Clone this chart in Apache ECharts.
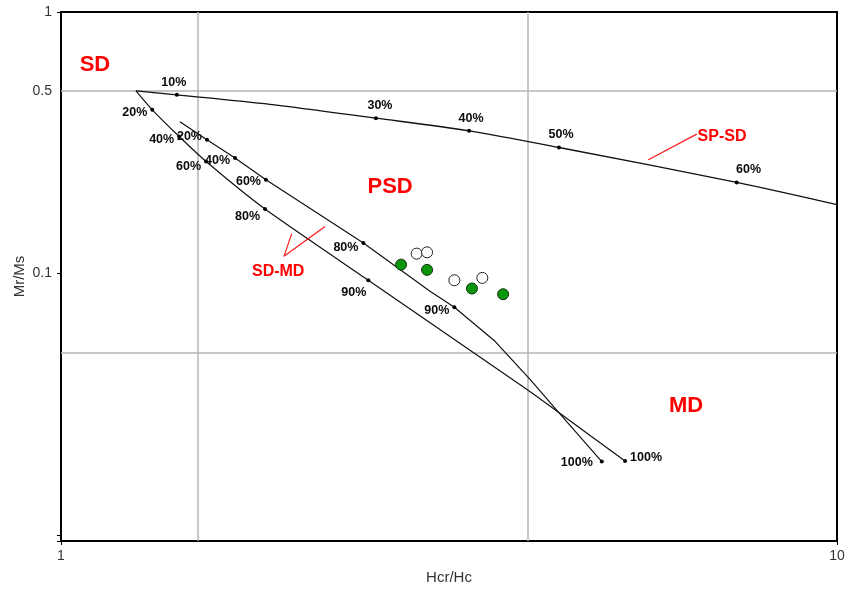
<!DOCTYPE html>
<html><head><meta charset="utf-8">
<script src="https://cdn.jsdelivr.net/npm/echarts@6/dist/echarts.min.js"></script>
<style>html,body{margin:0;padding:0;background:#fff}#c{width:848px;height:594px}</style>
</head><body><div id="c"></div>
<script>
// ---- data (Hcr/Hc , Mr/Ms) ----
const xTickLabels = ['1', '10'];
const yTickLabels = ['1', '0.5', '0.1'];
const gridX = [1.5, 4];
const gridY = [0.5, 0.05];

// SP-SD mixing curve
const spsdCurve = [[1.249,0.4993],[1.410,0.4822],[1.859,0.4436],[2.546,0.3928],[3.356,0.3513],[4.383,0.3034],[7.424,0.2231],[10,0.1834]];
const spsdDots = [[1.410,0.4822],[2.546,0.3928],[3.356,0.3513],[4.383,0.3034],[7.424,0.2231]];
const spsdDotText = ['10%','30%','40%','50%','60%'];

// SD-MD mixing curve 1 (lower)
const sdmd1Curve = [[1.249,0.4993],[1.311,0.4226],[1.420,0.3342],[1.538,0.2683],[1.832,0.1766],[2.489,0.0943],[3.982,0.0361],[4.371,0.02956],[5.332,0.01921]];
const sdmd1Dots = [[1.311,0.4226],[1.420,0.3342],[1.538,0.2683],[1.832,0.1766],[2.489,0.0943],[5.332,0.01921]];
const sdmd1DotText = ['20%','40%','60%','80%','90%','100%'];

// SD-MD mixing curve 2 (upper)
const sdmd2Curve = [[1.423,0.3803],[1.542,0.3247],[1.676,0.2764],[1.837,0.2285],[2.453,0.1310],[2.989,0.0856],[3.213,0.0743],[3.625,0.0551],[4.022,0.0394],[4.375,0.02956],[4.976,0.01911]];
const sdmd2Dots = [[1.542,0.3247],[1.676,0.2764],[1.837,0.2285],[2.453,0.1310],[3.213,0.0743],[4.976,0.01911]];
const sdmd2DotText = ['20%','40%','60%','80%','90%','100%'];

// samples
const samplesFilled = [[2.743,0.1082],[2.963,0.1033],[3.385,0.0877],[3.713,0.0834]];
const samplesOpen = [[2.873,0.1192],[2.963,0.1206],[3.213,0.0943],[3.491,0.0963]];

// region labels
const regionText = ['SD','PSD','MD','SP-SD','SD-MD'];
const regionPos = [[1.106,0.628],[2.655,0.2148],[6.39,0.0313],[7.11,0.3334],[1.905,0.1018]];

// annotation pointers
const pointerSpsd = [[5.713,0.2723],[6.596,0.3413]];
const pointerSdmd = [[1.983,0.1421],[1.938,0.1164],[2.189,0.1515]];

// ---- chart ----
const FONT = 'Arial, "Liberation Sans", sans-serif';
const pctLabelStyle = {show:true, fontFamily:FONT, fontWeight:'bold', fontSize:12.5, color:'#0a0a0a'};

function dotSeries(points, texts, positions, offsets) {
  return {
    type:'scatter', symbol:'circle', symbolSize:4, z:5,
    itemStyle:{color:'#000', opacity:1},
    data: points.map((p,i)=>({
      value:p,
      label:Object.assign({}, pctLabelStyle, {formatter:texts[i], position:positions[i], offset:offsets[i], distance:3})
    }))
  };
}

const chart = echarts.init(document.getElementById('c'), null, {renderer:'canvas'});
const regionSizes = [22,22,22,16,16];

chart.setOption({
  animation:false,
  backgroundColor:'#fff',
  grid:{left:61, right:11, top:12, bottom:53, show:true, borderColor:'#000', borderWidth:2},
  xAxis:{
    type:'log', logBase:10, min:1, max:10,
    name:'Hcr/Hc', nameLocation:'middle', nameGap:29, nameMoveOverlap:false,
    nameTextStyle:{fontFamily:FONT, fontSize:15, color:'#333'},
    axisLine:{lineStyle:{color:'#000', width:2}},
    axisTick:{show:true, length:4, lineStyle:{color:'#000'}},
    axisLabel:{fontFamily:FONT, fontSize:14, color:'#333', margin:8,
      formatter:v=> (Math.abs(v-1)<1e-6 ? xTickLabels[0] : Math.abs(v-10)<1e-6 ? xTickLabels[1] : '')},
    splitLine:{show:false}
  },
  yAxis:{
    type:'log', logBase:10, min:0.0095, max:1,
    name:'Mr/Ms', nameLocation:'middle', nameGap:34, nameMoveOverlap:false,
    nameTextStyle:{fontFamily:FONT, fontSize:15, color:'#333'},
    axisLine:{lineStyle:{color:'#000', width:2}},
    axisTick:{show:true, length:4, lineStyle:{color:'#000'}},
    axisLabel:{fontFamily:FONT, fontSize:14, color:'#333', margin:9,
      formatter:v=> (Math.abs(v-1)<1e-6 ? yTickLabels[0] : Math.abs(v-0.1)<1e-6 ? yTickLabels[2] : '')},
    splitLine:{show:false}
  },
  series:[
    {
      type:'line', data:spsdCurve, smooth:0.3, symbol:'none', z:3,
      lineStyle:{color:'#111', width:1.3},
      markLine:{
        silent:true, symbol:['none','none'], z:1,
        lineStyle:{color:'#b4b4b4', width:1.5, type:'solid', opacity:1},
        label:{show:false},
        data:[
          {yAxis:gridY[0], label:{show:true, position:'start', formatter:yTickLabels[1], distance:9, fontFamily:FONT, fontSize:14, color:'#333'}},
          {yAxis:gridY[1]},
          {xAxis:gridX[0]},
          {xAxis:gridX[1]}
        ]
      }
    },
    {type:'line', data:sdmd1Curve, smooth:0.2, symbol:'none', z:3, lineStyle:{color:'#111', width:1.2}},
    {type:'line', data:sdmd2Curve, smooth:false, symbol:'none', z:3, lineStyle:{color:'#111', width:1.2}},
    dotSeries(spsdDots, spsdDotText, ['top','top','top','top','top'], [[-3,-1],[4,-1],[2,-1],[2,-1],[12,-1]]),
    dotSeries(sdmd1Dots, sdmd1DotText, ['left','left','left','left','left','right'], [[0,3],[0,3],[0,5],[0,8],[3,12],[0,-3]]),
    dotSeries(sdmd2Dots, sdmd2DotText, ['left','left','left','left','left','left'], [[0,-3],[0,2],[0,2],[0,5],[0,3],[-4,1]]),
    {type:'line', data:pointerSpsd, symbol:'none', lineStyle:{color:'#ff1a1a', width:1.2}, z:4},
    {type:'line', data:pointerSdmd, symbol:'none', lineStyle:{color:'#ff1a1a', width:1.2}, z:4},
    {
      type:'scatter', symbolSize:11, z:6, data:samplesOpen,
      itemStyle:{color:'#fff', borderColor:'#222', borderWidth:1, opacity:1}
    },
    {
      type:'scatter', symbolSize:11, z:6, data:samplesFilled,
      itemStyle:{color:'#0a960a', borderColor:'#143014', borderWidth:1, opacity:1}
    },
    {
      type:'scatter', symbolSize:0, z:7, itemStyle:{opacity:1},
      data: regionPos.map((p,i)=>({value:p, label:{show:true, position:'inside', formatter:regionText[i],
        fontFamily:FONT, fontWeight:'bold', fontSize:regionSizes[i], color:'#ff0000', opacity:1}}))
    }
  ]
});
</script>
</body></html>
